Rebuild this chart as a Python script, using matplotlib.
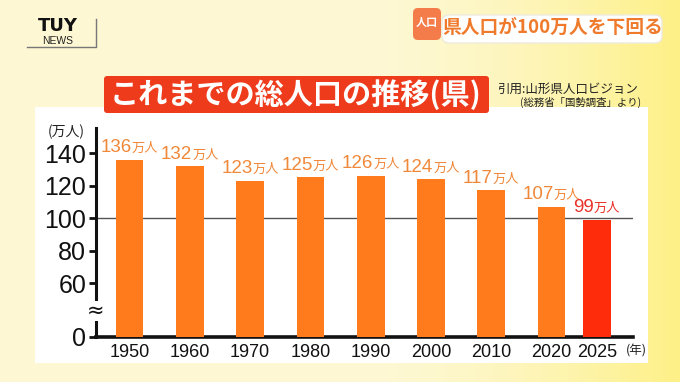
import numpy as np
import matplotlib
matplotlib.use("Agg")
import matplotlib.pyplot as plt
from matplotlib.patches import Rectangle, FancyBboxPatch
from matplotlib.offsetbox import TextArea, HPacker, AnnotationBbox

plt.rcParams['font.family'] = ['Noto Sans CJK JP', 'DejaVu Sans']

# ---------------------------------------------------------------
# Data.
# ---------------------------------------------------------------
years = ['1950', '1960', '1970', '1980', '1990', '2000', '2010', '2020', '2025']
xpos = [0, 1, 2, 3, 4, 5, 6, 7, 7.75]   # 2025 sits closer to 2020
population = [136, 132, 123, 125, 126, 124, 117, 107, 99]   # 万人
ytick_vals = [60, 80, 100, 120, 140]

orange = '#ff7b1c'
red = '#ff2c0c'
label_orange = '#f0883a'
label_red = '#e8322a'

W, H = 680, 382
fig = plt.figure(figsize=(W / 100, H / 100), dpi=100)

# ---------------------------------------------------------------
# Background in pixel coordinates.
# ---------------------------------------------------------------
bg = fig.add_axes([0, 0, 1, 1], zorder=-10)
bg.set_xlim(0, W)
bg.set_ylim(H, 0)
bg.axis('off')
gx = np.linspace(0, 1, 200)
grad = np.clip((gx - 0.55) / 0.45, 0, 1) ** 1.5
r = np.full_like(gx, 0.995)
g = 0.972 - 0.03 * grad
b = 0.83 - 0.30 * grad
img = np.dstack([np.tile(r, (2, 1)), np.tile(g, (2, 1)), np.tile(b, (2, 1))])
bg.imshow(img, extent=[0, W, H, 0], aspect='auto', zorder=0)

# white chart panel
bg.add_patch(Rectangle((35, 107), 613, 256, facecolor='white', edgecolor='none', zorder=1))

# logo
bg.text(58, 26, 'TUY', fontsize=13, fontweight='heavy', family=['DejaVu Sans'],
        ha='center', va='center', color='#111111', zorder=2)
bg.text(58, 41.5, 'NEWS', fontsize=7.5, family=['Liberation Sans'],
        ha='center', va='center', color='#222222', zorder=2)
bg.plot([27, 96, 96], [47, 47, 19], color='#777777', lw=1, zorder=2)

# headline pill
bg.add_patch(FancyBboxPatch((442, 15), 220, 28, boxstyle='round,pad=0,rounding_size=7',
                            facecolor='white', edgecolor='#eeeadd', lw=1, zorder=2))
bg.add_patch(FancyBboxPatch((413, 8), 28, 32, boxstyle='round,pad=0,rounding_size=5',
                            facecolor='#f47c4a', edgecolor='none', zorder=3))
bg.text(427, 22, '人口', fontsize=8, fontweight='bold', color='white',
        ha='center', va='center', zorder=4)
bg.text(553, 27, '県人口が100万人を下回る', fontsize=13.5, fontweight='bold',
        color='#ef7a2c', ha='center', va='center', zorder=4)

# title box
bg.add_patch(FancyBboxPatch((104, 76), 385, 37, boxstyle='round,pad=0,rounding_size=3',
                            facecolor='#ee3b1c', edgecolor='none', zorder=2))
bg.text(296, 95, 'これまでの総人口の推移(県)', fontsize=21, fontweight='bold',
        color='white', ha='center', va='center', zorder=3)
bg.text(497, 89, '引用:山形県人口ビジョン', fontsize=9, color='#222222',
        ha='left', va='center', zorder=3)
bg.text(641, 102, '(総務省「国勢調査」より)', fontsize=7.5, color='#222222',
        ha='right', va='center', zorder=3)

# ---------------------------------------------------------------
# Bar chart.
# ---------------------------------------------------------------
left, right, top, bottom = 96, 633, 128, 337
ax = fig.add_axes([left / W, 1 - bottom / H, (right - left) / W, (bottom - top) / H])
ax.patch.set_alpha(0)

y0 = 26.8
ax.set_ylim(y0, 155.4)
ax.set_xlim(-0.555, 8.35)

colors = [orange] * (len(years) - 1) + [red]
ax.bar(xpos, population, width=0.46, color=colors, zorder=3, bottom=0)
ax.axhline(100, color='#555555', lw=1, zorder=2)

for x, v, c in zip(xpos, population, colors):
    lc = label_red if c == red else label_orange
    num = TextArea(str(v), textprops=dict(fontsize=13.5, color=lc, family=['Liberation Sans']))
    unit = TextArea('万人', textprops=dict(fontsize=9.5, color=lc))
    box = HPacker(children=[num, unit], align='baseline', pad=0, sep=0)
    ab = AnnotationBbox(box, (x, v), xybox=(0, 2.5), xycoords='data',
                        boxcoords='offset points', box_alignment=(0.5, 0),
                        frameon=False, zorder=4)
    ax.add_artist(ab)

for s in ['top', 'right']:
    ax.spines[s].set_visible(False)
ax.spines['left'].set_linewidth(2.2)
ax.spines['bottom'].set_linewidth(2.6)
ax.spines['left'].set_color('#111111')
ax.spines['bottom'].set_color('#111111')

ax.set_yticks([y0] + ytick_vals)
ax.set_yticklabels(['0'] + [str(v) for v in ytick_vals],
                   fontsize=18, family=['Liberation Sans'], color='#111111')
ax.tick_params(axis='y', length=5, width=2, pad=2, color='#111111')
ax.set_xticks(xpos)
ax.set_xticklabels(years, fontsize=13, family=['Liberation Sans'], color='#111111')
ax.tick_params(axis='x', length=0, pad=5)

# axis break mark and unit labels
ax.text(-0.555, 43, '≈', fontsize=15, ha='center', va='center', color='#111111',
        family=['DejaVu Sans'], transform=ax.transData, clip_on=False, zorder=5,
        bbox=dict(facecolor='white', edgecolor='none', pad=0))
bg.text(66, 132, '(万人)', fontsize=10, color='#222222', ha='center', va='center', zorder=3)
bg.text(636, 351, '(年)', fontsize=9, color='#222222', ha='center', va='center', zorder=3)

fig.savefig('out.png', dpi=100)
